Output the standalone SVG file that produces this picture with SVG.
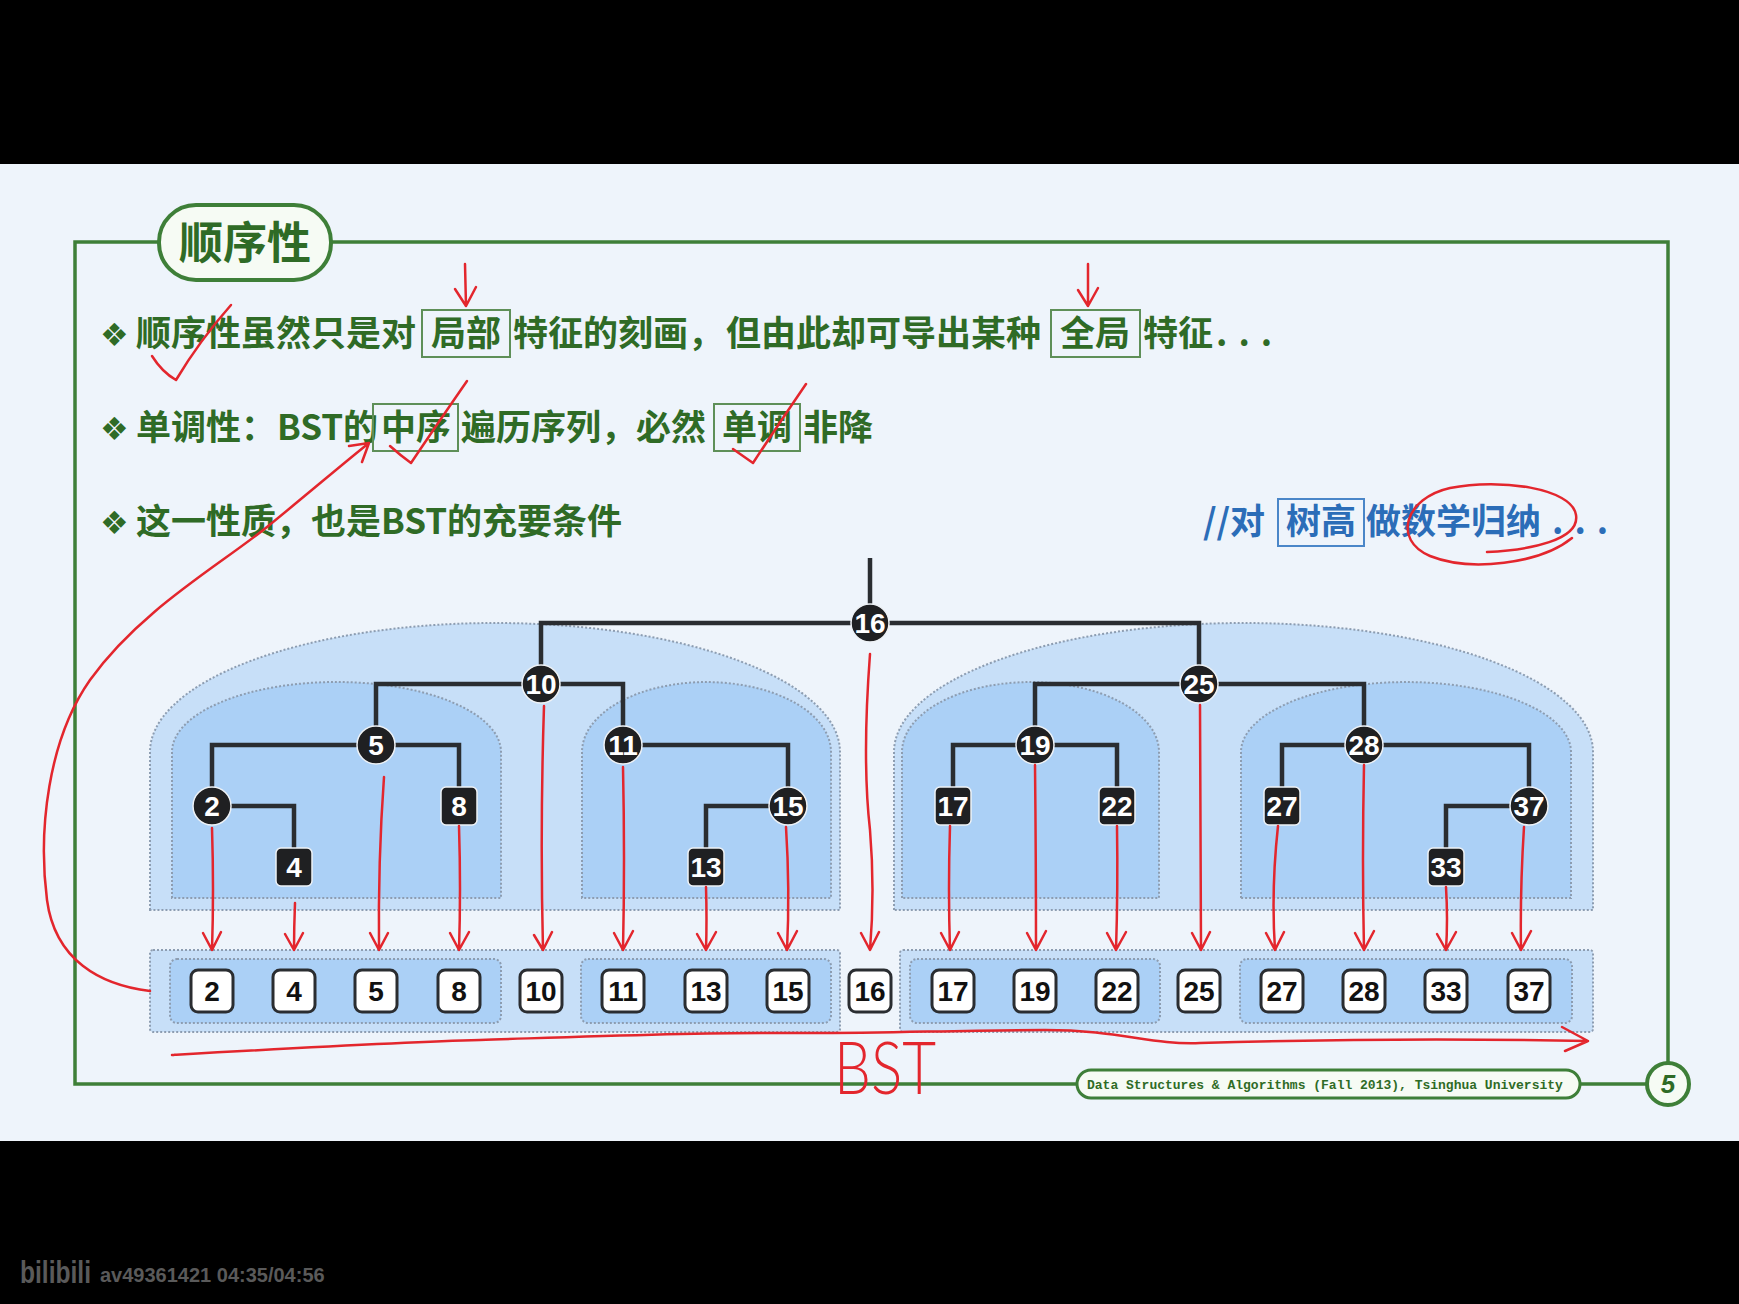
<svg xmlns="http://www.w3.org/2000/svg" width="1739" height="1304" viewBox="0 0 1739 1304">
<defs>
<style>
.t{font-family:"Noto Sans CJK SC","Noto Sans",sans-serif;font-weight:700;font-size:35px;fill:#2f6b26}
.bl{fill:#2b6db8}
.bul{font-family:"DejaVu Sans","Noto Sans CJK SC",sans-serif;font-size:32px;font-weight:700;fill:#2f6b26}
.kbox{fill:none;stroke:#5e8f58;stroke-width:2}
.bbox{fill:none;stroke:#4a86c8;stroke-width:2}
.frame{fill:none;stroke:#3e7f38;stroke-width:3.5}
.pill{fill:#f6fbf4;stroke:#3e7f38;stroke-width:4}
.ob{fill:#c7dff8;stroke:#8d9db1;stroke-width:2;stroke-dasharray:2 2}
.ib{fill:#abd0f6;stroke:#8d9db1;stroke-width:2;stroke-dasharray:2 2}
.edge{fill:none;stroke:#2a2d31;stroke-width:4.5}
.cn{fill:#1f2022;stroke:#eef2f6;stroke-width:1.5}
.nt{font-family:"Liberation Sans",Arial,sans-serif;font-weight:700;font-size:28px;fill:#ffffff;text-anchor:middle}
.sb{fill:#ffffff;stroke:#2a2d31;stroke-width:3}
.st{font-family:"Liberation Sans",Arial,sans-serif;font-weight:700;font-size:28px;fill:#111111;text-anchor:middle}
.red{fill:none;stroke:#e3262d;stroke-width:2.5;stroke-linecap:round;stroke-linejoin:round}
</style>
</defs>

<rect x="0" y="0" width="1739" height="164" fill="#000000"/>
<rect x="0" y="164" width="1739" height="977" fill="#eef4fb"/>
<rect x="0" y="1141" width="1739" height="163" fill="#000000"/>

<g id="frame">
<rect class="frame" x="75" y="242" width="1593" height="842"/>
<rect class="pill" x="159" y="205" width="172" height="75" rx="37"/>
<text class="t" x="245" y="259" text-anchor="middle" style="font-size:44px">顺序性</text>
<rect class="pill" x="1077" y="1070" width="503" height="28" rx="14" style="stroke-width:3"/>
<text x="1087" y="1089" style="font-family:'Liberation Mono',monospace;font-weight:700;font-size:13px;fill:#2f6b26">Data Structures &amp; Algorithms (Fall 2013), Tsinghua University</text>
<circle cx="1668" cy="1084" r="21" fill="#f6fbf4" stroke="#3e7f38" stroke-width="4"/>
<text x="1668" y="1093" text-anchor="middle" style="font-family:'Liberation Sans',sans-serif;font-weight:700;font-style:italic;font-size:26px;fill:#2f6b26">5</text>
</g>

<g id="line1">
<text class="bul" x="100" y="346">❖</text>
<text class="t" y="346"><tspan x="136">顺序性虽然只是对</tspan><tspan x="431">局部</tspan><tspan x="513">特征的刻画，</tspan><tspan x="726">但由此却可导出某种</tspan><tspan x="1060">全局</tspan><tspan x="1143">特征</tspan><tspan x="1216" letter-spacing="11">...</tspan></text>
<rect class="kbox" x="422" y="310" width="88" height="47"/>
<rect class="kbox" x="1051" y="310" width="89" height="47"/>
</g>

<g id="line2">
<text class="bul" x="100" y="440">❖</text>
<text class="t" y="440"><tspan x="136">单调性：</tspan><tspan x="277">BST的</tspan><tspan x="381">中序</tspan><tspan x="461">遍历序列，必然</tspan><tspan x="722">单调</tspan><tspan x="803">非降</tspan></text>
<rect class="kbox" x="373" y="404" width="85" height="47"/>
<rect class="kbox" x="714" y="404" width="86" height="47"/>
</g>

<g id="line3">
<text class="bul" x="100" y="534">❖</text>
<text class="t" x="136" y="534">这一性质，也是BST的充要条件</text>
</g>

<g id="comment">
<text class="t bl" y="534"><tspan x="1203">//对</tspan><tspan x="1286">树高</tspan><tspan x="1366">做数学归纳</tspan><tspan x="1552" letter-spacing="11">...</tspan></text>
<rect class="bbox" x="1278" y="499" width="86" height="47"/>
</g>

<g id="regions">
<path class="ob" d="M150,910 L150,752 A345,129 0 0 1 840,752 L840,910 Z"/>
<path class="ob" d="M894,910 L894,752 A349.5,129 0 0 1 1593,752 L1593,910 Z"/>
<path class="ib" d="M172,898 L172,752 A164.5,70 0 0 1 501,752 L501,898 Z"/>
<path class="ib" d="M582,898 L582,752 A124.5,70 0 0 1 831,752 L831,898 Z"/>
<path class="ib" d="M902,898 L902,752 A128.5,70 0 0 1 1159,752 L1159,898 Z"/>
<path class="ib" d="M1241,898 L1241,752 A165,70 0 0 1 1571,752 L1571,898 Z"/>
<rect class="ob" x="150" y="950" width="690" height="82" rx="3"/>
<rect class="ob" x="900" y="950" width="693" height="82" rx="3"/>
<rect class="ib" x="170" y="959" width="331" height="64" rx="7"/>
<rect class="ib" x="581" y="959" width="250" height="64" rx="7"/>
<rect class="ib" x="910" y="959" width="250" height="64" rx="7"/>
<rect class="ib" x="1240" y="959" width="332" height="64" rx="7"/>
</g>

<g id="connectors">
<path class="edge" d="M870,558 V623"/>
<path class="edge" d="M870,623 H541 V684"/>
<path class="edge" d="M870,623 H1199 V684"/>
<path class="edge" d="M541,684 H376 V745"/>
<path class="edge" d="M541,684 H623 V745"/>
<path class="edge" d="M376,745 H212 V806"/>
<path class="edge" d="M376,745 H459 V806"/>
<path class="edge" d="M212,806 H294 V867"/>
<path class="edge" d="M623,745 H788 V806"/>
<path class="edge" d="M788,806 H706 V867"/>
<path class="edge" d="M1199,684 H1035 V745"/>
<path class="edge" d="M1199,684 H1364 V745"/>
<path class="edge" d="M1035,745 H953 V806"/>
<path class="edge" d="M1035,745 H1117 V806"/>
<path class="edge" d="M1364,745 H1282 V806"/>
<path class="edge" d="M1364,745 H1529 V806"/>
<path class="edge" d="M1529,806 H1446 V867"/>
</g>

<g id="tree-nodes">
<g id="n16"><circle class="cn" cx="870" cy="623" r="19"/><text class="nt" x="870" y="633">16</text></g>
<g id="n10"><circle class="cn" cx="541" cy="684" r="19"/><text class="nt" x="541" y="694">10</text></g>
<g id="n25"><circle class="cn" cx="1199" cy="684" r="19"/><text class="nt" x="1199" y="694">25</text></g>
<g id="n5"><circle class="cn" cx="376" cy="745" r="19"/><text class="nt" x="376" y="755">5</text></g>
<g id="n11"><circle class="cn" cx="623" cy="745" r="19"/><text class="nt" x="623" y="755">11</text></g>
<g id="n19"><circle class="cn" cx="1035" cy="745" r="19"/><text class="nt" x="1035" y="755">19</text></g>
<g id="n28"><circle class="cn" cx="1364" cy="745" r="19"/><text class="nt" x="1364" y="755">28</text></g>
<g id="n2"><circle class="cn" cx="212" cy="806" r="19"/><text class="nt" x="212" y="816">2</text></g>
<g id="n8"><rect class="cn" x="441" y="787" width="36" height="38" rx="5"/><text class="nt" x="459" y="816">8</text></g>
<g id="n15"><circle class="cn" cx="788" cy="806" r="19"/><text class="nt" x="788" y="816">15</text></g>
<g id="n17"><rect class="cn" x="935" y="787" width="36" height="38" rx="5"/><text class="nt" x="953" y="816">17</text></g>
<g id="n22"><rect class="cn" x="1099" y="787" width="36" height="38" rx="5"/><text class="nt" x="1117" y="816">22</text></g>
<g id="n27"><rect class="cn" x="1264" y="787" width="36" height="38" rx="5"/><text class="nt" x="1282" y="816">27</text></g>
<g id="n37"><circle class="cn" cx="1529" cy="806" r="19"/><text class="nt" x="1529" y="816">37</text></g>
<g id="n4"><rect class="cn" x="276" y="848" width="36" height="38" rx="5"/><text class="nt" x="294" y="877">4</text></g>
<g id="n13"><rect class="cn" x="688" y="848" width="36" height="38" rx="5"/><text class="nt" x="706" y="877">13</text></g>
<g id="n33"><rect class="cn" x="1428" y="848" width="36" height="38" rx="5"/><text class="nt" x="1446" y="877">33</text></g>
</g>

<g id="sequence">
<g id="s2"><rect class="sb" x="191" y="970" width="42" height="42" rx="7"/><text class="st" x="212" y="1001">2</text></g>
<g id="s4"><rect class="sb" x="273" y="970" width="42" height="42" rx="7"/><text class="st" x="294" y="1001">4</text></g>
<g id="s5"><rect class="sb" x="355" y="970" width="42" height="42" rx="7"/><text class="st" x="376" y="1001">5</text></g>
<g id="s8"><rect class="sb" x="438" y="970" width="42" height="42" rx="7"/><text class="st" x="459" y="1001">8</text></g>
<g id="s10"><rect class="sb" x="520" y="970" width="42" height="42" rx="7"/><text class="st" x="541" y="1001">10</text></g>
<g id="s11"><rect class="sb" x="602" y="970" width="42" height="42" rx="7"/><text class="st" x="623" y="1001">11</text></g>
<g id="s13"><rect class="sb" x="685" y="970" width="42" height="42" rx="7"/><text class="st" x="706" y="1001">13</text></g>
<g id="s15"><rect class="sb" x="767" y="970" width="42" height="42" rx="7"/><text class="st" x="788" y="1001">15</text></g>
<g id="s16"><rect class="sb" x="849" y="970" width="42" height="42" rx="7"/><text class="st" x="870" y="1001">16</text></g>
<g id="s17"><rect class="sb" x="932" y="970" width="42" height="42" rx="7"/><text class="st" x="953" y="1001">17</text></g>
<g id="s19"><rect class="sb" x="1014" y="970" width="42" height="42" rx="7"/><text class="st" x="1035" y="1001">19</text></g>
<g id="s22"><rect class="sb" x="1096" y="970" width="42" height="42" rx="7"/><text class="st" x="1117" y="1001">22</text></g>
<g id="s25"><rect class="sb" x="1178" y="970" width="42" height="42" rx="7"/><text class="st" x="1199" y="1001">25</text></g>
<g id="s27"><rect class="sb" x="1261" y="970" width="42" height="42" rx="7"/><text class="st" x="1282" y="1001">27</text></g>
<g id="s28"><rect class="sb" x="1343" y="970" width="42" height="42" rx="7"/><text class="st" x="1364" y="1001">28</text></g>
<g id="s33"><rect class="sb" x="1425" y="970" width="42" height="42" rx="7"/><text class="st" x="1446" y="1001">33</text></g>
<g id="s37"><rect class="sb" x="1508" y="970" width="42" height="42" rx="7"/><text class="st" x="1529" y="1001">37</text></g>
</g>

<g id="annotations">
<path class="red" d="M212,828 Q214,890 212,950 M203,933 L212,950 L221,932"/>
<path class="red" d="M295,903 Q294,928 294,950 M285,934 L294,950 L303,933"/>
<path class="red" d="M384,777 Q378,860 379,950 M370,933 L379,950 L388,933"/>
<path class="red" d="M459,826 Q461,890 459,950 M450,933 L459,950 L469,932"/>
<path class="red" d="M544,706 Q540,830 543,950 M534,935 L543,950 L552,932"/>
<path class="red" d="M623,767 Q625,860 623,950 M614,933 L623,950 L633,931"/>
<path class="red" d="M706,887 Q707,920 706,950 M697,934 L706,950 L716,932"/>
<path class="red" d="M786,827 Q790,890 787,950 M778,933 L787,950 L797,931"/>
<path class="red" d="M870,654 Q862,760 870,830 Q875,890 870,950 M861,933 L870,950 L879,932"/>
<path class="red" d="M950,826 Q948,890 950,950 M941,933 L950,950 L959,932"/>
<path class="red" d="M1035,765 Q1036,860 1036,950 M1027,933 L1036,950 L1046,931"/>
<path class="red" d="M1117,826 Q1118,890 1116,950 M1107,933 L1116,950 L1126,932"/>
<path class="red" d="M1200,705 Q1200,830 1201,950 M1192,933 L1201,950 L1210,932"/>
<path class="red" d="M1278,826 Q1271,890 1275,950 M1266,933 L1275,950 L1284,932"/>
<path class="red" d="M1364,765 Q1362,860 1364,950 M1355,933 L1364,950 L1374,931"/>
<path class="red" d="M1446,887 Q1448,920 1446,950 M1437,934 L1446,950 L1456,932"/>
<path class="red" d="M1524,827 Q1520,890 1521,950 M1512,933 L1521,950 L1531,931"/>

<path class="red" d="M150,991 C100,985 55,960 47,900 C38,830 48,740 90,680 C140,610 220,565 267,527 C310,492 345,462 369,443 M349,446 L369,443 L362,462"/>

<path class="red" d="M172,1055 C260,1050 400,1042 480,1040 C600,1036 700,1032 780,1033 C880,1034 950,1030 1045,1030 C1120,1030 1150,1045 1200,1043 C1300,1040 1450,1038 1588,1041 M1562,1027 L1588,1041 L1565,1051"/>

<path class="red" d="M152,356 Q162,372 176,380 Q200,340 231,305"/>
<path class="red" d="M390,446 Q400,455 411,463 Q440,420 467,381"/>
<path class="red" d="M733,449 Q743,456 753,463 Q780,422 806,384"/>

<path class="red" d="M465,264 L466,306 M455,289 L466,306 L476,287"/>
<path class="red" d="M1088,264 L1088,306 M1078,290 L1088,306 L1098,288"/>

<path class="red" d="M1487,552 C1530,550 1580,540 1576,515 C1572,488 1500,478 1450,488 C1405,498 1392,540 1430,556 C1470,572 1540,564 1572,538"/>

<text x="834" y="1094" textLength="102" lengthAdjust="spacingAndGlyphs" style="font-family:'Lato','Liberation Sans',sans-serif;font-weight:300;font-size:72px;fill:#e3262d">BST</text>
</g>

<g id="watermark">
<text x="20" y="1283" textLength="71" lengthAdjust="spacingAndGlyphs" style="font-family:'Liberation Sans',sans-serif;font-weight:700;font-size:32px;fill:#5a5a5a">bilibili</text>
<text x="100" y="1282" style="font-family:'Liberation Sans',sans-serif;font-weight:700;font-size:20px;fill:#5a5a5a">av49361421 04:35/04:56</text>
</g>
</svg>
